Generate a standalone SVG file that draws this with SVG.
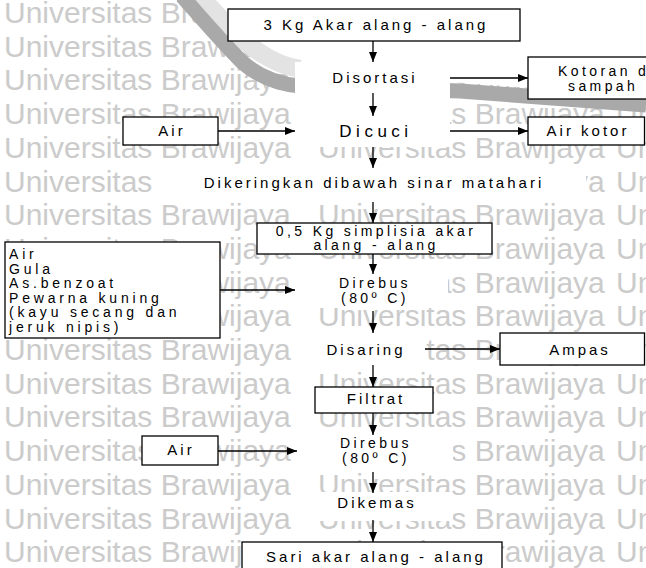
<svg xmlns="http://www.w3.org/2000/svg" width="646" height="568" viewBox="0 0 646 568">
<defs>
<style>
.wm{font-family:"Liberation Sans",Arial,sans-serif;font-size:30px;fill:#cbcbcb}
.box{fill:#fff;stroke:#000;stroke-width:1.3}
.mask{fill:#fff}
.t{font-family:"Liberation Sans",Arial,sans-serif;font-size:15px;fill:#000;letter-spacing:3px}
.s{font-size:14px;letter-spacing:3.4px}
.ing{font-size:14px;letter-spacing:3.8px}
.c{text-anchor:middle}
.ln{stroke:#000;stroke-width:1.3;fill:none}
</style>
<marker id="ah" markerWidth="10" markerHeight="8" refX="10" refY="4" orient="auto" markerUnits="userSpaceOnUse"><path d="M0,0 L10,4 L0,8 z" fill="#000"/></marker>
<g id="wmrow">
<text class="wm" x="4" y="0">Universitas Brawijaya</text>
<text class="wm" x="318" y="0">Universitas Brawijaya</text>
<text class="wm" x="616" y="0">Universitas Brawijaya</text>
</g>
</defs>
<rect width="646" height="568" fill="#fff"/>
<g id="watermark">
<use href="#wmrow" y="23"/>
<use href="#wmrow" y="56.7"/>
<use href="#wmrow" y="90.4"/>
<use href="#wmrow" y="124.1"/>
<use href="#wmrow" y="157.8"/>
<use href="#wmrow" y="191.5"/>
<use href="#wmrow" y="225.2"/>
<use href="#wmrow" y="258.9"/>
<use href="#wmrow" y="292.6"/>
<use href="#wmrow" y="326.3"/>
<use href="#wmrow" y="360"/>
<use href="#wmrow" y="393.7"/>
<use href="#wmrow" y="427.4"/>
<use href="#wmrow" y="461.1"/>
<use href="#wmrow" y="494.8"/>
<use href="#wmrow" y="528.5"/>
<use href="#wmrow" y="562.2"/>
<polygon points="196,0 240,40 272,62 300,70 450,82 646,96 646,0" fill="#fff"/>
<path d="M200,-4 C218,16 240,40 262,54 C276,63 288,67 300,69" stroke="#e3e3e3" stroke-width="18" fill="none"/>
<path d="M182,-4 C198,14 220,40 242,62 C258,76 276,84 300,86 L460,91 L646,105" stroke="#a9a9a9" stroke-width="15" fill="none"/>
</g>
<g id="masks">
<rect class="mask" x="295" y="62" width="155" height="85"/>
<rect class="mask" x="156" y="166" width="430" height="35"/>
<rect class="mask" x="292" y="264" width="156" height="44"/>
<rect class="mask" x="292" y="332" width="133" height="34"/>
<rect class="mask" x="300" y="435" width="153" height="38"/>
<rect class="mask" x="300" y="492" width="153" height="29"/>
</g>
<g id="n-start"><rect class="box" x="228" y="9" width="292" height="32"/><text class="t c" x="376" y="30">3 Kg Akar alang - alang</text></g>
<g id="n-disortasi"><text class="t c" x="375" y="83">Disortasi</text></g>
<g id="n-kotoran"><rect class="box" x="528" y="57" width="140" height="42"/><text class="t s" x="558" y="76">Kotoran dan</text><text class="t s" x="568" y="91">sampah</text></g>
<g id="n-air1"><rect class="box" x="123" y="117" width="95" height="28"/><text class="t c" x="172" y="136">Air</text></g>
<g id="n-dicuci"><text class="t c" x="376" y="137" style="font-size:17px;letter-spacing:4.5px">Dicuci</text></g>
<g id="n-airkotor"><rect class="box" x="528" y="117" width="116.5" height="28"/><text class="t c" x="588" y="136">Air kotor</text></g>
<g id="n-dikeringkan"><text class="t c" x="374" y="188">Dikeringkan dibawah sinar matahari</text></g>
<g id="n-simplisia"><rect class="box" x="257" y="223" width="235" height="31"/><text class="t s c" x="376" y="235.5">0,5 Kg simplisia akar</text><text class="t s c" x="376" y="250">alang - alang</text></g>
<g id="n-bahan"><rect class="box" x="5" y="242" width="215" height="96"/>
<text class="t ing" x="9" y="259">Air</text>
<text class="t ing" x="9" y="273.5">Gula</text>
<text class="t ing" x="9" y="288">As.benzoat</text>
<text class="t ing" x="9" y="302.5">Pewarna kuning</text>
<text class="t ing" x="9" y="317">(kayu secang dan</text>
<text class="t ing" x="9" y="331.5">jeruk nipis)</text></g>
<g id="n-direbus1"><text class="t s c" x="375" y="288">Direbus</text><text class="t s c" x="375" y="303">(80º C)</text></g>
<g id="n-disaring"><text class="t c" x="366" y="355">Disaring</text></g>
<g id="n-ampas"><rect class="box" x="500" y="333" width="144.5" height="32"/><text class="t c" x="580" y="355">Ampas</text></g>
<g id="n-filtrat"><rect class="box" x="315" y="387" width="118" height="26"/><text class="t c" x="376" y="404">Filtrat</text></g>
<g id="n-air2"><rect class="box" x="142" y="436" width="76" height="29"/><text class="t c" x="181" y="455">Air</text></g>
<g id="n-direbus2"><text class="t s c" x="376" y="448">Direbus</text><text class="t s c" x="376" y="463">(80º C)</text></g>
<g id="n-dikemas"><text class="t c" x="377" y="508">Dikemas</text></g>
<g id="n-sari"><rect class="box" x="242" y="542" width="260" height="40"/><text class="t c" x="376" y="562">Sari akar alang - alang</text></g>
<g id="connectors" class="ln" marker-end="url(#ah)">
<line x1="373" y1="41" x2="373" y2="62"/>
<line x1="373" y1="93" x2="373" y2="116"/>
<line x1="373" y1="147" x2="373" y2="168"/>
<line x1="373" y1="202" x2="373" y2="223"/>
<line x1="373" y1="254" x2="373" y2="274"/>
<line x1="373" y1="311" x2="373" y2="333"/>
<line x1="373" y1="365" x2="373" y2="387"/>
<line x1="373" y1="413" x2="373" y2="435"/>
<line x1="373" y1="472" x2="373" y2="493"/>
<line x1="373" y1="520" x2="373" y2="542"/>
<line x1="450" y1="78" x2="528" y2="78"/>
<line x1="450" y1="131" x2="528" y2="131"/>
<line x1="218" y1="131" x2="295" y2="131"/>
<line x1="220" y1="290" x2="295" y2="290"/>
<line x1="425" y1="349" x2="500" y2="349"/>
<line x1="218" y1="451" x2="297" y2="451"/>
</g>
</svg>
